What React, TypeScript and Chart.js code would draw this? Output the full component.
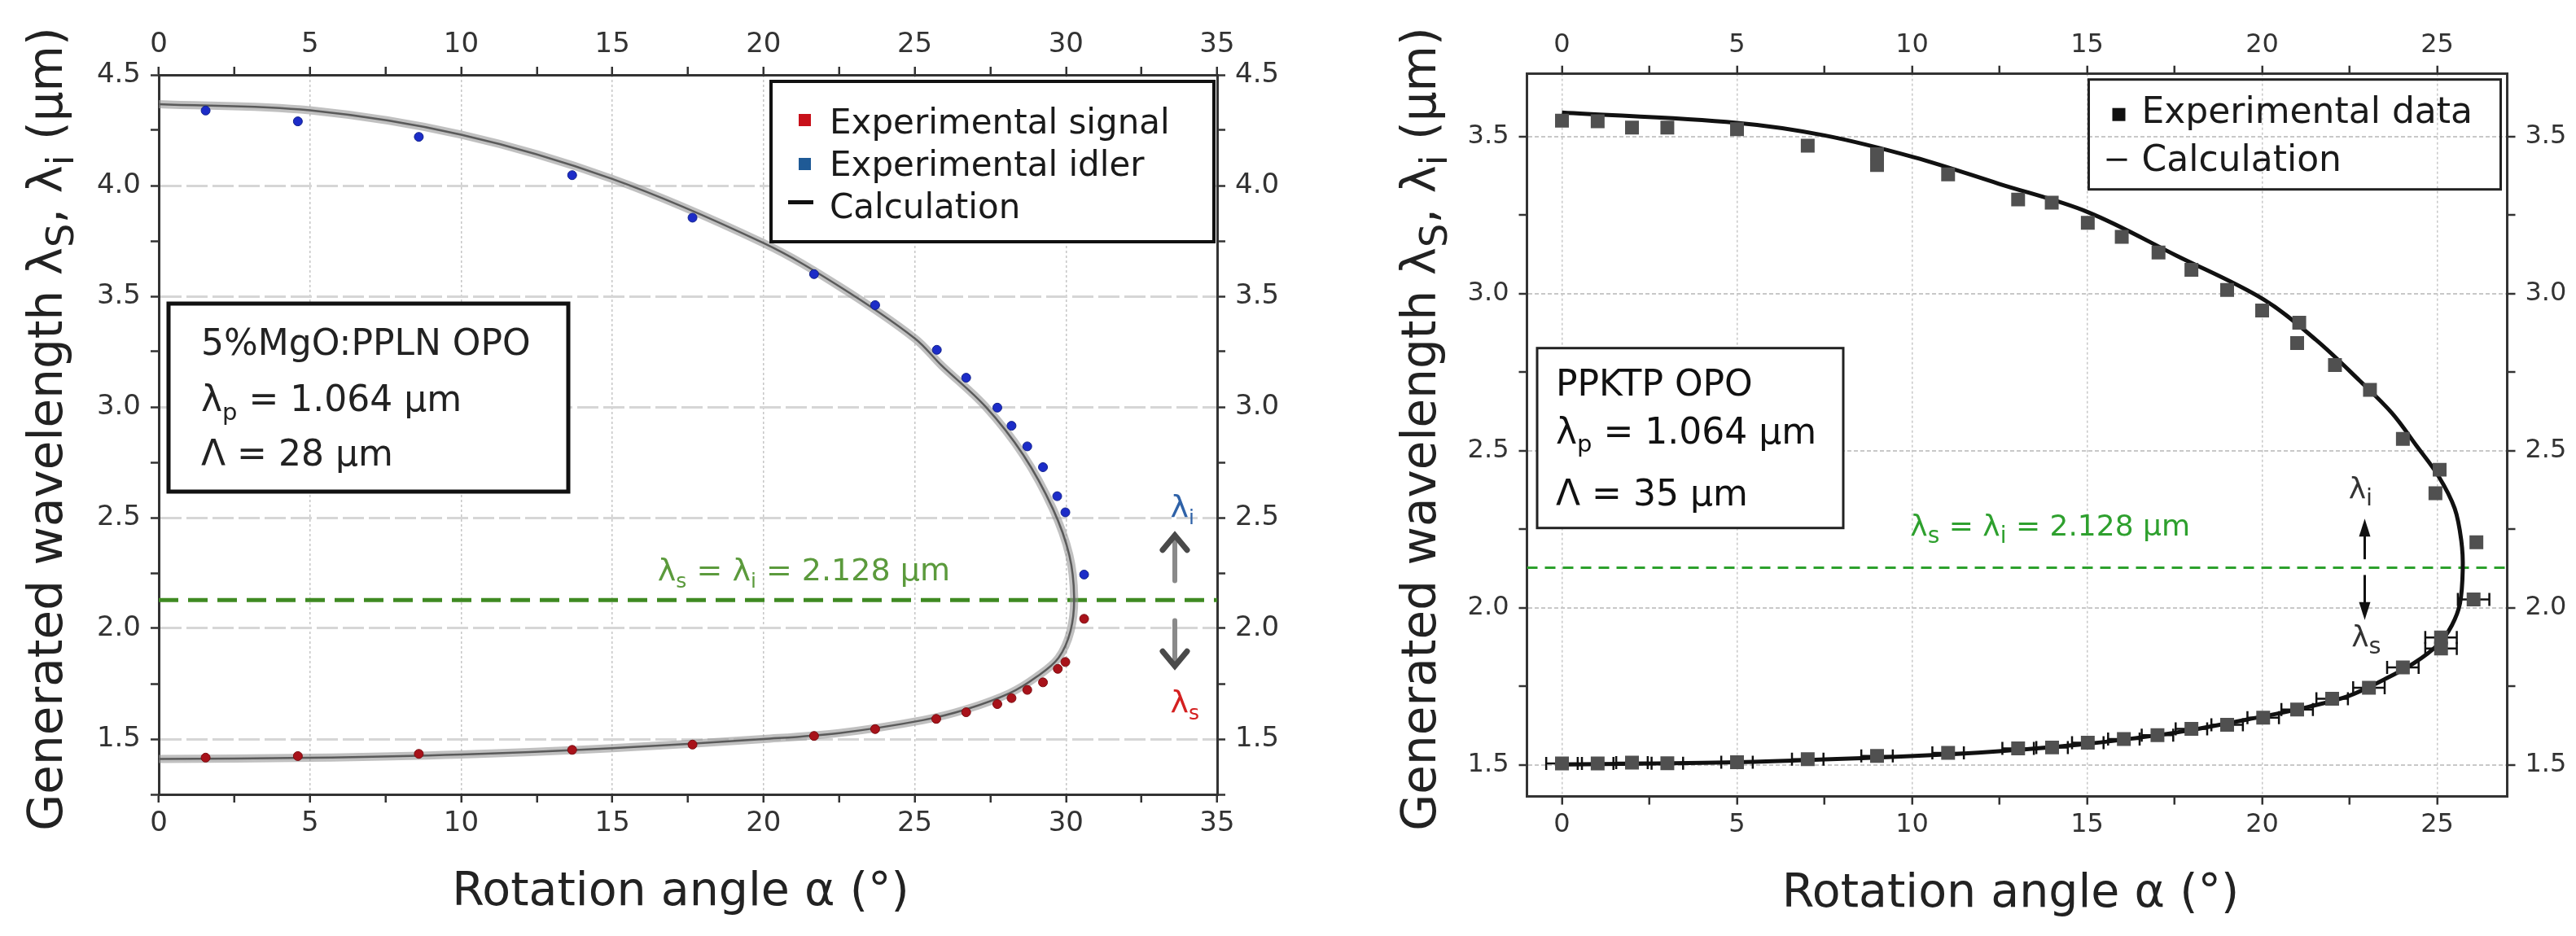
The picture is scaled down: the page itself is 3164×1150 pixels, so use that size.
import { useEffect, useRef } from "react";
import { Chart, registerables } from "chart.js";

Chart.register(...registerables);

const FONT = '"DejaVu Sans", Verdana, sans-serif';

// degenerate point, where signal and idler meet
const degenerateLambda = 2.128;

// ---- left panel: 5%MgO:PPLN OPO ----
const pplnSignalAngle = [1.55, 4.6, 8.6, 13.67, 17.65, 21.67, 23.69, 25.71, 26.7, 27.73, 28.2, 28.72, 29.24, 29.73, 29.98, 30.6];
const pplnSignalLambda = [1.416, 1.423, 1.433, 1.451, 1.475, 1.514, 1.545, 1.591, 1.621, 1.658, 1.685, 1.722, 1.756, 1.817, 1.848, 2.043];
const pplnIdlerAngle = [1.55, 4.6, 8.6, 13.67, 17.65, 21.67, 23.69, 25.73, 26.7, 27.73, 28.2, 28.72, 29.24, 29.71, 29.98, 30.6];
const pplnIdlerLambda = [4.339, 4.29, 4.22, 4.047, 3.855, 3.6, 3.46, 3.258, 3.132, 2.997, 2.915, 2.822, 2.728, 2.597, 2.524, 2.243];
const pplnCalcAngle = [0, 5, 10, 15, 20, 22.5, 25, 25.89, 27.33, 28.59, 29.57, 30.11, 30.27, 30.15, 29.75, 29.03, 28.14, 26.7, 25.26, 22.5, 20, 15, 10, 5, 0];
const pplnCalcLambda = [4.368, 4.34, 4.23, 4.03, 3.74, 3.545, 3.31, 3.187, 3.003, 2.783, 2.539, 2.331, 2.141, 1.988, 1.866, 1.781, 1.707, 1.634, 1.585, 1.527, 1.5, 1.459, 1.43, 1.415, 1.41];

// ---- right panel: PPKTP OPO ----
const ppktpIdlerAngle = [0, 1.02, 2.0, 3.01, 5.0, 7.02, 9.0, 9.0, 11.03, 13.03, 13.99, 15.02, 15.99, 17.04, 17.98, 19.0, 20.0, 21.06, 21.0, 22.08, 23.08, 24.02, 25.07, 24.95, 26.12];
const ppktpIdlerLambda = [3.551, 3.549, 3.529, 3.529, 3.524, 3.471, 3.444, 3.41, 3.38, 3.3, 3.29, 3.226, 3.181, 3.131, 3.076, 3.012, 2.947, 2.908, 2.843, 2.773, 2.694, 2.538, 2.44, 2.365, 2.209];
const ppktpSignalAngle = [26.04, 25.11, 25.11, 24.02, 23.05, 22.0, 21.0, 20.03, 19.0, 17.98, 17.01, 16.05, 15.02, 14.0, 13.03, 11.03, 9.0, 7.02, 5.0, 3.01, 2.0, 1.02, 0];
const ppktpSignalLambda = [2.027, 1.906, 1.871, 1.811, 1.746, 1.711, 1.677, 1.651, 1.628, 1.615, 1.595, 1.583, 1.571, 1.556, 1.553, 1.539, 1.529, 1.519, 1.509, 1.506, 1.508, 1.505, 1.505];
const ppktpAngleErr = 0.45;
const ppktpCalcAngle = [0, 5, 7.5, 10.07, 12.48, 15.02, 17.56, 20.04, 21.54, 22.78, 23.71, 24.41, 25.03, 25.5, 25.69, 25.73, 25.65, 25.42, 25.03, 24.33, 23.48, 22.47, 21.31, 20.04, 17.56, 15.02, 12.48, 10.07, 5, 0];
const ppktpCalcLambda = [3.577, 3.544, 3.504, 3.434, 3.35, 3.26, 3.121, 2.982, 2.853, 2.724, 2.62, 2.516, 2.421, 2.317, 2.213, 2.122, 2.014, 1.945, 1.884, 1.824, 1.772, 1.72, 1.685, 1.655, 1.604, 1.568, 1.544, 1.529, 1.509, 1.502];

const pts = (xs: number[], ys: number[]) => xs.map((x, i) => ({ x, y: ys[i] }));
const isMajor = (v: number, step: number) => Math.abs(v / step - Math.round(v / step)) < 1e-6;

type Part = [string, boolean?];

// text with subscripts, drawn straight on the canvas
function richText(ctx: CanvasRenderingContext2D, parts: Part[], x: number, y: number, size: number, color: string, align: "left" | "center" = "left", subScale = 0.66) {
  const widths = parts.map(([t, sub]) => {
    ctx.font = `${sub ? size * subScale : size}px ${FONT}`;
    return ctx.measureText(t).width;
  });
  const total = widths.reduce((a, b) => a + b, 0);
  let cx = align === "center" ? x - total / 2 : x;
  ctx.fillStyle = color;
  ctx.textAlign = "left";
  ctx.textBaseline = "alphabetic";
  parts.forEach(([t, sub], i) => {
    ctx.font = `${sub ? size * subScale : size}px ${FONT}`;
    ctx.fillText(t, cx, sub ? y + size * 0.24 : y);
    cx += widths[i];
  });
}

function yTitle(ctx: CanvasRenderingContext2D, cx: number, cy: number) {
  ctx.save();
  ctx.translate(cx, cy);
  ctx.rotate(-Math.PI / 2);
  richText(ctx, [["Generated wavelength λ"], ["S", true], [", λ"], ["i", true], [" (μm)"]], 0, 20, 58, "#222", "center", 0.8);
  ctx.restore();
}

function chevronArrow(ctx: CanvasRenderingContext2D, x: number, from: number, tip: number) {
  const dir = tip < from ? -1 : 1;
  ctx.lineCap = "round";
  ctx.strokeStyle = "#8a8a8a";
  ctx.lineWidth = 6;
  ctx.beginPath();
  ctx.moveTo(x, from);
  ctx.lineTo(x, tip - dir * 6);
  ctx.stroke();
  ctx.strokeStyle = "#4a4a4a";
  ctx.lineWidth = 7;
  ctx.beginPath();
  ctx.moveTo(x - 15, tip - dir * 18);
  ctx.lineTo(x, tip);
  ctx.lineTo(x + 15, tip - dir * 18);
  ctx.stroke();
}

function solidArrow(ctx: CanvasRenderingContext2D, x: number, from: number, tip: number) {
  const dir = tip < from ? -1 : 1;
  ctx.strokeStyle = "#111";
  ctx.fillStyle = "#111";
  ctx.lineWidth = 3;
  ctx.beginPath();
  ctx.moveTo(x, from);
  ctx.lineTo(x, tip - dir * 16);
  ctx.stroke();
  ctx.beginPath();
  ctx.moveTo(x, tip);
  ctx.lineTo(x - 7, tip - dir * 22);
  ctx.lineTo(x + 7, tip - dir * 22);
  ctx.closePath();
  ctx.fill();
}

function scaleOpts(o: {
  position: string; min: number; max: number; step: number; major: number; digits: number;
  size: (s: any) => void; onArea: boolean; gridColor: string; gridWidth: number; dash: number[];
  fontSize: number; padding: number;
}) {
  return {
    type: "linear",
    position: o.position,
    min: o.min,
    max: o.max,
    afterFit: o.size,
    ticks: {
      stepSize: o.step,
      autoSkip: false,
      maxTicksLimit: 100,
      includeBounds: false,
      maxRotation: 0,
      padding: o.padding,
      color: "#333",
      font: { family: FONT, size: o.fontSize },
      callback: (v: number | string) => (isMajor(+v, o.major) ? (+v).toFixed(o.digits) : ""),
    },
    grid: {
      drawOnChartArea: o.onArea,
      color: (c: any) => (c.tick && isMajor(c.tick.value, o.major) ? o.gridColor : "rgba(0,0,0,0)"),
      lineWidth: o.gridWidth,
      tickLength: 10,
      tickColor: "#333",
      tickWidth: 2.5,
    },
    border: { color: "#333", width: 3, dash: o.dash },
  };
}

const pplnOverlay = {
  id: "pplnOverlay",
  afterDraw(chart: any) {
    const { ctx, chartArea: a } = chart;
    const xs = chart.scales.x;
    const ys = chart.scales.y;
    ctx.save();

    // legend
    const lx = a.right - 548;
    const ly = a.top + 8;
    ctx.fillStyle = "#fff";
    ctx.fillRect(lx, ly, 544, 197);
    ctx.lineWidth = 4;
    ctx.strokeStyle = "#111";
    ctx.strokeRect(lx, ly, 544, 197);
    ctx.fillStyle = "#c8101a";
    ctx.fillRect(lx + 34, ly + 40, 15, 15);
    ctx.fillStyle = "#1f5a96";
    ctx.fillRect(lx + 34, ly + 94, 15, 15);
    ctx.fillStyle = "#111";
    ctx.fillRect(lx + 21, ly + 146, 31, 5);
    richText(ctx, [["Experimental signal"]], lx + 72, ly + 64, 42, "#1a1a1a");
    richText(ctx, [["Experimental idler"]], lx + 72, ly + 116, 42, "#1a1a1a");
    richText(ctx, [["Calculation"]], lx + 72, ly + 168, 42, "#1a1a1a");

    // crystal box
    const bx = a.left + 12;
    const by = a.top + 281;
    ctx.fillStyle = "#fff";
    ctx.fillRect(bx, by, 491, 231);
    ctx.lineWidth = 5;
    ctx.strokeStyle = "#111";
    ctx.strokeRect(bx, by, 491, 231);
    richText(ctx, [["5%MgO:PPLN OPO"]], bx + 40, by + 63, 44, "#222");
    richText(ctx, [["λ"], ["p", true], [" = 1.064 μm"]], bx + 40, by + 132, 44, "#222");
    richText(ctx, [["Λ = 28 μm"]], bx + 40, by + 199, 44, "#222");

    // degeneracy label
    richText(ctx, [["λ"], ["s", true], [" = λ"], ["i", true], [" = 2.128 μm"]], xs.getPixelForValue(16.5), ys.getPixelForValue(2.216), 38, "#5b9a3c");

    // tuning arrows
    const ax = xs.getPixelForValue(33.6);
    chevronArrow(ctx, ax, ys.getPixelForValue(2.215), ys.getPixelForValue(2.42));
    chevronArrow(ctx, ax, ys.getPixelForValue(2.035), ys.getPixelForValue(1.83));
    richText(ctx, [["λ"], ["i", true]], xs.getPixelForValue(33.45), ys.getPixelForValue(2.504), 38, "#2f62a8");
    richText(ctx, [["λ"], ["s", true]], xs.getPixelForValue(33.45), ys.getPixelForValue(1.621), 38, "#d42020");

    // axis titles
    yTitle(ctx, 56, 527);
    richText(ctx, [["Rotation angle α (°)"]], (a.left + a.right) / 2 - 9, 1112, 57, "#222", "center");
    ctx.restore();
  },
};

const ppktpErrorBars = {
  id: "ppktpErrorBars",
  beforeDatasetsDraw(chart: any) {
    const { ctx } = chart;
    const xs = chart.scales.x;
    const ys = chart.scales.y;
    ctx.save();
    ctx.strokeStyle = "#111";
    ctx.lineWidth = 2.5;
    ppktpSignalAngle.forEach((ang, i) => {
      const y = ys.getPixelForValue(ppktpSignalLambda[i]);
      const x0 = xs.getPixelForValue(ang - ppktpAngleErr);
      const x1 = xs.getPixelForValue(ang + ppktpAngleErr);
      ctx.beginPath();
      ctx.moveTo(x0, y);
      ctx.lineTo(x1, y);
      ctx.moveTo(x0, y - 8);
      ctx.lineTo(x0, y + 8);
      ctx.moveTo(x1, y - 8);
      ctx.lineTo(x1, y + 8);
      ctx.stroke();
    });
    ctx.restore();
  },
};

const ppktpOverlay = {
  id: "ppktpOverlay",
  afterDraw(chart: any) {
    const { ctx, chartArea: a } = chart;
    const xs = chart.scales.x;
    const ys = chart.scales.y;
    ctx.save();

    // legend (no fill, grid shows through)
    const lx = a.right - 514;
    const ly = a.top + 7;
    ctx.lineWidth = 3;
    ctx.strokeStyle = "#222";
    ctx.strokeRect(lx, ly, 506, 135);
    ctx.fillStyle = "#111";
    ctx.fillRect(lx + 29, ly + 35, 16, 16);
    ctx.fillRect(lx + 22, ly + 97, 25, 3);
    richText(ctx, [["Experimental data"]], lx + 65, ly + 53, 44, "#1a1a1a");
    richText(ctx, [["Calculation"]], lx + 65, ly + 112, 44, "#1a1a1a");

    // crystal box
    const bx = a.left + 12.5;
    const by = a.top + 337;
    ctx.fillStyle = "#fff";
    ctx.fillRect(bx, by, 376, 221);
    ctx.lineWidth = 3;
    ctx.strokeStyle = "#222";
    ctx.strokeRect(bx, by, 376, 221);
    richText(ctx, [["PPKTP OPO"]], bx + 23, by + 58, 44, "#111");
    richText(ctx, [["λ"], ["p", true], [" = 1.064 μm"]], bx + 23, by + 117, 44, "#111");
    richText(ctx, [["Λ = 35 μm"]], bx + 23, by + 193, 44, "#111");

    // degeneracy label
    richText(ctx, [["λ"], ["s", true], [" = λ"], ["i", true], [" = 2.128 μm"]], xs.getPixelForValue(9.95), ys.getPixelForValue(2.23), 36, "#2ea02e", "left", 0.78);

    // tuning arrows
    const ax = xs.getPixelForValue(22.93);
    solidArrow(ctx, ax, ys.getPixelForValue(2.155), ys.getPixelForValue(2.284));
    solidArrow(ctx, ax, ys.getPixelForValue(2.105), ys.getPixelForValue(1.962));
    richText(ctx, [["λ"], ["i", true]], xs.getPixelForValue(22.47), ys.getPixelForValue(2.349), 36, "#333", "left", 0.8);
    richText(ctx, [["λ"], ["s", true]], xs.getPixelForValue(22.55), ys.getPixelForValue(1.877), 36, "#333", "left", 0.8);

    // axis titles
    yTitle(ctx, 153, 527);
    richText(ctx, [["Rotation angle α (°)"]], (a.left + a.right) / 2 - 8, 1114, 57, "#222", "center");
    ctx.restore();
  },
};

function pplnConfig(): any {
  const xAxis = (position: string, h: number, onArea: boolean) =>
    scaleOpts({ position, min: 0, max: 35, step: 2.5, major: 5, digits: 0, size: (s: any) => { s.height = h; }, onArea, gridColor: "#c6c6c6", gridWidth: 1.5, dash: [3, 3], fontSize: 34, padding: 6 });
  const yAxis = (position: string, w: number, onArea: boolean) =>
    scaleOpts({ position, min: 1.25, max: 4.5, step: 0.25, major: 0.5, digits: 1, size: (s: any) => { s.width = w; }, onArea, gridColor: "#d6d6d6", gridWidth: 3, dash: [26, 6], fontSize: 34, padding: 12 });
  return {
    type: "scatter",
    data: {
      datasets: [
        { label: "Experimental signal", data: pts(pplnSignalAngle, pplnSignalLambda), pointRadius: 5.5, backgroundColor: "#a8121a", borderColor: "#7a0c10", borderWidth: 1 },
        { label: "Experimental idler", data: pts(pplnIdlerAngle, pplnIdlerLambda), pointRadius: 5.5, backgroundColor: "#1c2cc8", borderColor: "#10208a", borderWidth: 1 },
        { label: "Calculation", data: pts(pplnCalcAngle, pplnCalcLambda), showLine: true, tension: 0.35, pointRadius: 0, borderColor: "#5a5a5a", borderWidth: 2.5 },
        { label: "Calculation halo", data: pts(pplnCalcAngle, pplnCalcLambda), showLine: true, tension: 0.35, pointRadius: 0, borderColor: "rgba(150,150,150,0.6)", borderWidth: 10, borderCapStyle: "round" },
        { label: "Degeneracy", data: [{ x: 0, y: degenerateLambda }, { x: 35, y: degenerateLambda }], showLine: true, pointRadius: 0, borderColor: "#3f8a22", borderWidth: 5, borderDash: [24, 12] },
      ],
    },
    options: {
      responsive: false,
      animation: false,
      layout: { padding: 0 },
      plugins: { legend: { display: false }, tooltip: { enabled: false } },
      scales: {
        x: xAxis("bottom", 174, true),
        x2: xAxis("top", 92, false),
        y: yAxis("left", 195, true),
        y2: yAxis("right", 95, false),
      },
    },
    plugins: [pplnOverlay],
  };
}

function ppktpConfig(): any {
  const xAxis = (position: string, h: number, onArea: boolean) =>
    scaleOpts({ position, min: -1, max: 27, step: 2.5, major: 5, digits: 0, size: (s: any) => { s.height = h; }, onArea, gridColor: "#c8c8c8", gridWidth: 1.5, dash: [3, 3], fontSize: 32, padding: 6 });
  const yAxis = (position: string, w: number, onArea: boolean) =>
    scaleOpts({ position, min: 1.4, max: 3.7, step: 0.25, major: 0.5, digits: 1, size: (s: any) => { s.width = w; }, onArea, gridColor: "#c8c8c8", gridWidth: 2, dash: [5, 3], fontSize: 32, padding: 12 });
  const square = { pointStyle: "rect", pointRadius: 12, backgroundColor: "#505050", borderWidth: 0 };
  return {
    type: "scatter",
    data: {
      datasets: [
        { label: "Experimental data", data: pts(ppktpIdlerAngle, ppktpIdlerLambda), ...square },
        { label: "Experimental data signal", data: pts(ppktpSignalAngle, ppktpSignalLambda), ...square },
        { label: "Calculation", data: pts(ppktpCalcAngle, ppktpCalcLambda), showLine: true, tension: 0.35, pointRadius: 0, borderColor: "#111", borderWidth: 5 },
        { label: "Degeneracy", data: [{ x: -1, y: degenerateLambda }, { x: 27, y: degenerateLambda }], showLine: true, pointRadius: 0, borderColor: "#2ca02c", borderWidth: 3, borderDash: [13, 9] },
      ],
    },
    options: {
      responsive: false,
      animation: false,
      layout: { padding: 0 },
      plugins: { legend: { display: false }, tooltip: { enabled: false } },
      scales: {
        x: xAxis("bottom", 171.4, true),
        x2: xAxis("top", 90.7, false),
        y: yAxis("left", 285.5, true),
        y2: yAxis("right", 84.5, false),
      },
    },
    plugins: [ppktpErrorBars, ppktpOverlay],
  };
}

function ChartPanel({ left, width, build }: { left: number; width: number; build: () => any }) {
  const canvasRef = useRef<HTMLCanvasElement>(null);

  useEffect(() => {
    if (!canvasRef.current) return;
    const chart = new Chart(canvasRef.current, build());
    return () => {
      chart.destroy();
    };
  }, [build]);

  return (
    <canvas
      ref={canvasRef}
      width={width}
      height={1150}
      style={{ position: "absolute", left, top: 0, width, height: 1150 }}
    />
  );
}

export default function App() {
  return (
    <div style={{ position: "absolute", left: 0, top: 0, width: 3164, height: 1150, background: "#fff", overflow: "hidden" }}>
      <ChartPanel left={0} width={1590} build={pplnConfig} />
      <ChartPanel left={1590} width={1574} build={ppktpConfig} />
    </div>
  );
}
